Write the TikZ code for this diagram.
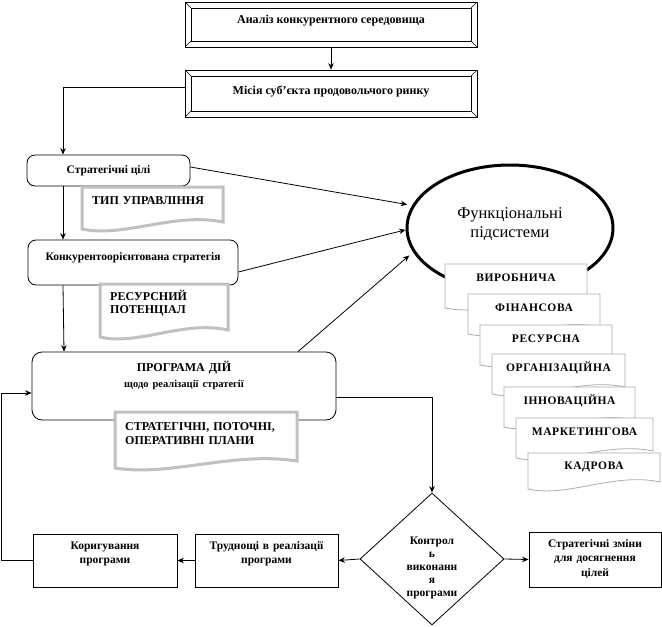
\documentclass[tikz,border=0pt]{standalone}
\usepackage{fontspec}
\setmainfont{Liberation Serif}
\newfontfamily\spacedfont[LetterSpace=5]{Liberation Serif}
\usepackage{tikz}
\usetikzlibrary{arrows.meta, calc, shapes.geometric}
\definecolor{docgray}{RGB}{192,192,192}
\definecolor{subgray}{RGB}{172,172,172}
% document shape: x, y, width, height (pixel units, y down)
\newcommand{\docshape}[5][]{%
  \filldraw[#1] (#2,#3) -- (#2+#4,#3) -- (#2+#4,#3+#5-7)
    .. controls (#2+0.65*#4,#3+#5-17) and (#2+0.3*#4,#3+#5+9) .. (#2,#3+#5) -- cycle;}
\tikzset{
  arr/.style={draw, line width=0.8pt, -{Stealth[length=6.5pt,width=5.5pt]}},
  bevel/.style={
    draw, line width=0.8pt, inner sep=0pt,
    font=\fontsize{12}{14}\selectfont\bfseries,
    path picture={
      \draw[line width=0.8pt] ([shift={(6pt,-6pt)}]path picture bounding box.north west)
        rectangle ([shift={(-6pt,6pt)}]path picture bounding box.south east);
      \draw[line width=0.6pt] (path picture bounding box.north west) -- ++(6pt,-6pt);
      \draw[line width=0.6pt] (path picture bounding box.north east) -- ++(-6pt,-6pt);
      \draw[line width=0.6pt] (path picture bounding box.south east) -- ++(-6pt,6pt);
      \draw[line width=0.6pt] (path picture bounding box.south west) -- ++(6pt,6pt);
    }
  },
  rbox/.style={draw, line width=0.8pt, rounded corners=8pt, inner sep=0pt,
    font=\fontsize{11.5}{16}\selectfont\bfseries},
  sbox/.style={draw, line width=0.8pt, inner sep=0pt, align=center,
    font=\fontsize{11.5}{14.5}\selectfont\bfseries},
  leftdoc/.style={draw=docgray, line width=3pt, fill=white},
  doctext/.style={inner sep=0pt, align=left, font=\fontsize{12}{13}\selectfont\bfseries},
  subdoc/.style={draw=subgray, line width=0.8pt, fill=white},
  subtext/.style={inner sep=0pt, font=\spacedfont\fontsize{11.5}{13}\selectfont\bfseries},
}
\begin{document}
\begin{tikzpicture}[x=1pt, y=-1pt]
  \useasboundingbox (0,0) rectangle (662,627);

  % top boxes
  \node[bevel, minimum width=292pt, text height=21pt, text depth=24pt] (analiz) at (331,24.5) {Аналіз конкурентного середовища};
  \node[bevel, minimum width=292pt, text height=24pt, text depth=23pt] (misiya) at (331,93.5) {Місія суб'єкта продовольчого ринку};

  % left column
  \node[rbox, minimum width=163pt, minimum height=31pt] (cili) at (108.5,170.5) {Стратегічні цілі};
  \node[rbox, minimum width=210pt, text height=20pt, text depth=25pt] (strat) at (133,262.5) {Конкурентоорієнтована стратегія};
  \node[rbox, rounded corners=10pt, text width=304pt, align=center, text height=19pt, text depth=49pt, font=\fontsize{12}{16}\selectfont\bfseries] (prog) at (184,386)
    {ПРОГРАМА ДІЙ\\{\fontsize{10.5}{16}\selectfont щодо реалізації стратегії}};

  % functional subsystems
  \node[ellipse, draw, line width=3pt, minimum width=206pt, minimum height=126pt, inner sep=0pt,
    text width=140pt, align=center, text height=15pt, text depth=35pt, font=\fontsize{16.5}{19}\selectfont] (func) at (510,228) {Функціональні\\підсистеми};

  % bottom row
  \node[diamond, draw, line width=0.8pt, minimum width=144pt, minimum height=132pt, inner sep=0pt,
    text width=62pt, align=center, text height=15pt, text depth=45pt,
    font=\fontsize{11.5}{13}\selectfont\bfseries] (kontrol) at (432,559) {Контрол\\ь\\виконанн\\я\\програми};
  \node[sbox, text width=132pt, text height=15pt, text depth=40pt] (zminy) at (595,559.5) {Стратегічні зміни\\для досягнення\\цілей};
  \node[sbox, text width=143pt, text height=15pt, text depth=38pt] (trudn) at (266.5,560.5) {Труднощі в реалізації\\програми};
  \node[sbox, text width=144pt, text height=15pt, text depth=38pt] (koryg) at (105,560.5) {Коригування\\програми};

  % connectors
  \draw[arr] (analiz) -- (misiya);
  \draw[arr] ([yshift=6pt]misiya.west) -| ([xshift=-45.5pt]cili.north);
  \draw[arr] ([xshift=-45.5pt]cili.south) -- ([xshift=-70pt]strat.north);
  \draw[arr] ([xshift=-70pt]strat.south) -- ([xshift=-120pt]prog.north);
  \draw[arr, shorten >=5pt] ([yshift=3.5pt]cili.east) -- (func.167);
  \draw[arr] ([yshift=-9.5pt]strat.east) -- (func.181);
  \draw[arr, shorten >=5pt] ([xshift=114pt]prog.north) -- (func.194);
  \draw[arr] ([yshift=-11pt]prog.east) -| (kontrol.north);
  \draw[arr] (kontrol.east) -- (zminy.west);
  \draw[arr] (kontrol.west) -- (trudn.east);
  \draw[arr] (trudn.west) -- (koryg.east);
  \draw[arr] (koryg.west) -- ++(-31,0) |- ([yshift=-7pt]prog.west);

  % documents on the left
  \docshape[leftdoc]{82}{187}{141}{42}
  \node[doctext, text width=125pt, anchor=base west] (typ) at (92,204) {ТИП УПРАВЛІННЯ};
  \docshape[leftdoc]{100}{284}{128}{53}
  \node[doctext, text width=110pt, anchor=base west] (resurs) at (110,300.5) {РЕСУРСНИЙ\\ПОТЕНЦІАЛ};
  \docshape[leftdoc]{115}{412}{182}{56}
  \node[doctext, text width=165pt, anchor=base west, font=\fontsize{12}{14}\selectfont\bfseries] (plany) at (125,430.5) {СТРАТЕГІЧНІ, ПОТОЧНІ,\\ОПЕРАТИВНІ ПЛАНИ};

  % subsystems stack
  \foreach \name/\x/\y/\w/\h [count=\i] in {ВИРОБНИЧА/445/264/142/44, ФІНАНСОВА/468/294/132/40,
      РЕСУРСНА/480/325/132/40, ОРГАНІЗАЦІЙНА/492/354/133/40, ІННОВАЦІЙНА/504/387/131/40,
      МАРКЕТИНГОВА/516/418/137/40, КАДРОВА/528/453/132/36}
  {
    \docshape[subdoc]{\x}{\y}{\w}{\h}
    \node[subtext] (sub\i) at (\x+\w/2,\y+14) {\name};
  }
\end{tikzpicture}
\end{document}
